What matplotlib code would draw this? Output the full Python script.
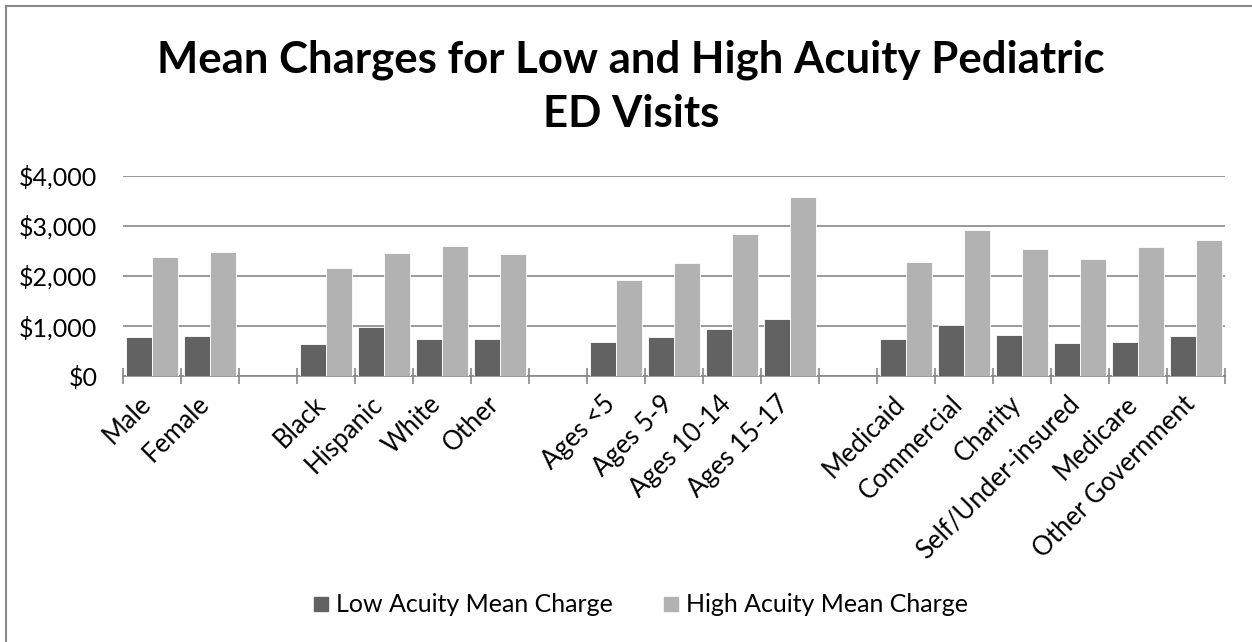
import numpy as np
import matplotlib
matplotlib.use("Agg")
import matplotlib.pyplot as plt
import matplotlib.transforms as mtransforms
from matplotlib.lines import Line2D

# Empty strings are spacer slots between the demographic groups
categories = ["Male", "Female", "",
              "Black", "Hispanic", "White", "Other", "",
              "Ages <5", "Ages 5-9", "Ages 10-14", "Ages 15-17", "",
              "Medicaid", "Commercial", "Charity", "Self/Under-insured",
              "Medicare", "Other Government"]
low_acuity = [780, 793, np.nan,
              647, 980, 740, 740, np.nan,
              687, 780, 940, 1147, np.nan,
              747, 1013, 813, 667, 673, 793]
high_acuity = [2380, 2473, np.nan,
               2153, 2453, 2587, 2440, np.nan,
               1927, 2253, 2827, 3580, np.nan,
               2273, 2913, 2540, 2333, 2580, 2713]
y_ticks = [0, 1000, 2000, 3000, 4000]

FONT = ["Lato", "DejaVu Sans"]
plt.rcParams["font.family"] = FONT

DARK = "#626262"
LIGHT = "#b2b2b2"
GRID = "#878787"

W, H = 1252, 642
fig = plt.figure(figsize=(W / 100, H / 100), dpi=100)
ax = fig.add_axes([123 / W, 1 - 376 / H, 1102 / W, 200.3 / H])

x = np.arange(len(categories))
w = 0.442
ax.bar(x - w / 2, low_acuity, width=w, color=DARK, edgecolor="white",
       linewidth=0.6, zorder=3)
ax.bar(x + w / 2, high_acuity, width=w, color=LIGHT, edgecolor="white",
       linewidth=0.6, zorder=3)

ax.set_xlim(-0.5, len(categories) - 0.5)
ax.set_ylim(0, 4000)
ax.set_yticks(y_ticks)
ax.set_yticklabels([f"${v:,.0f}" for v in y_ticks], fontsize=18)
ax.tick_params(axis="y", length=0, pad=18.5)
ax.yaxis.grid(True, color=GRID, linewidth=1.2, zorder=0)
ax.set_axisbelow(True)

# category labels at centres, tick marks on the boundaries
ax.set_xticks(x)
ax.set_xticklabels(categories, rotation=45, ha="right", fontsize=18.5)
ax.tick_params(axis="x", which="major", length=0, pad=11)
shift = mtransforms.ScaledTranslation(4 / 100, 0, fig.dpi_scale_trans)
for lbl in ax.get_xticklabels():
    lbl.set_transform(lbl.get_transform() + shift)
ax.set_xticks(np.arange(len(categories) + 1) - 0.5, minor=True)
ax.tick_params(axis="x", which="minor", length=12, width=1.2, color=GRID,
               direction="inout")

for side in ["left", "right", "top"]:
    ax.spines[side].set_visible(False)
ax.spines["bottom"].set_color(GRID)
ax.spines["bottom"].set_linewidth(1.2)

title_kw = dict(ha="center", va="baseline", fontsize=31.5, fontweight="bold")
fig.text(631 / W, 1 - 72 / H, "Mean Charges for Low and High Acuity Pediatric", **title_kw)
fig.text(631 / W, 1 - 127 / H, "ED Visits", **title_kw)

handles = [
    Line2D([0], [0], marker="s", linestyle="none", markerfacecolor=DARK,
           markeredgecolor=DARK, markersize=10.5, label="Low Acuity Mean Charge"),
    Line2D([0], [0], marker="s", linestyle="none", markerfacecolor=LIGHT,
           markeredgecolor=LIGHT, markersize=10.5, label="High Acuity Mean Charge"),
]
fig.legend(handles=handles, loc="center", bbox_to_anchor=(640 / W, 1 - 605 / H),
           ncol=2, frameon=False, fontsize=18, handletextpad=0.25,
           columnspacing=2.0, handlelength=0.7, borderaxespad=0)

# chart-area outline: only the top and left edges fall inside the frame
edge = dict(transform=fig.transFigure, color="#888888", linewidth=1.5)
fig.add_artist(Line2D([6 / W, 1], [1 - 6 / H, 1 - 6 / H], **edge))
fig.add_artist(Line2D([6 / W, 6 / W], [0, 1 - 6 / H], **edge))

fig.savefig("out.png", dpi=100, facecolor="white")
